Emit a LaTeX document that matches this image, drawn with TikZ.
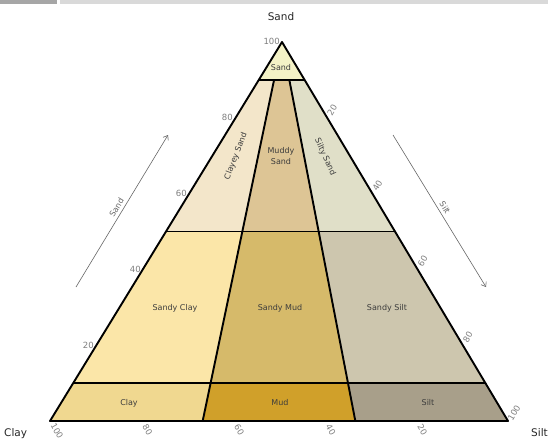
\documentclass[tikz,border=0pt]{standalone}
\usepackage{fontspec}
\setmainfont{DejaVu Sans}
\usetikzlibrary{arrows.meta}
\definecolor{cSand}{HTML}{F4F2C6}
\definecolor{cClayeySand}{HTML}{F3E6CA}
\definecolor{cMuddySand}{HTML}{DDC595}
\definecolor{cSiltySand}{HTML}{E0DFC8}
\definecolor{cSandyClay}{HTML}{FBE6A8}
\definecolor{cSandyMud}{HTML}{D6BA6A}
\definecolor{cSandySilt}{HTML}{CDC6AE}
\definecolor{cClay}{HTML}{F0D890}
\definecolor{cMud}{HTML}{D0A02A}
\definecolor{cSilt}{HTML}{A89F8A}
\definecolor{tickgray}{HTML}{7F7F7F}
\definecolor{regtext}{HTML}{3C3C3C}
\tikzset{
  border/.style={line width=1.9pt, line join=round},
  region/.style={font=\fontsize{8}{9.5}\selectfont, text=regtext, inner sep=0pt, align=center},
  ticklbl/.style={font=\fontsize{8.5}{10}\selectfont, text=tickgray, inner sep=0pt},
  cornerlbl/.style={font=\fontsize{10.5}{12}\selectfont, text=black!85, inner sep=0pt},
  axisarrow/.style={draw=black!60, line width=0.6pt, -{Straight Barb[length=4pt,width=6pt]}},
  axislbl/.style={font=\fontsize{8}{9.5}\selectfont, text=black!60, inner sep=3pt, sloped, above, midway}
}
\begin{document}
\begin{tikzpicture}[x=1pt,y=-1pt]
\useasboundingbox (0,0) rectangle (548,441);
\fill[white] (0,0) rectangle (548,441);
% top strip
\fill[black!35] (0,0) rectangle (57,4);
\fill[black!15] (60,0) rectangle (548,4);

% vertices
\coordinate (T) at (282,42);
\coordinate (C) at (50,421);
\coordinate (S) at (508,421);
% grid points
\coordinate (a90l) at (258.8,79.9);
\coordinate (a90m1) at (274.07,79.9);
\coordinate (a90m2) at (289.33,79.9);
\coordinate (a90r) at (304.6,79.9);
\coordinate (a50l) at (166,231.5);
\coordinate (a50m1) at (242.33,231.5);
\coordinate (a50m2) at (318.67,231.5);
\coordinate (a50r) at (395,231.5);
\coordinate (a10l) at (73.2,383.1);
\coordinate (a10m1) at (210.6,383.1);
\coordinate (a10m2) at (348.0,383.1);
\coordinate (a10r) at (485.4,383.1);
\coordinate (a0m1) at (202.67,421);
\coordinate (a0m2) at (355.33,421);

% fills
\fill[cSand] (T) -- (a90l) -- (a90r) -- cycle;
\fill[cClayeySand] (a90l) -- (a90m1) -- (a50m1) -- (a50l) -- cycle;
\fill[cMuddySand] (a90m1) -- (a90m2) -- (a50m2) -- (a50m1) -- cycle;
\fill[cSiltySand] (a90m2) -- (a90r) -- (a50r) -- (a50m2) -- cycle;
\fill[cSandyClay] (a50l) -- (a50m1) -- (a10m1) -- (a10l) -- cycle;
\fill[cSandyMud] (a50m1) -- (a50m2) -- (a10m2) -- (a10m1) -- cycle;
\fill[cSandySilt] (a50m2) -- (a50r) -- (a10r) -- (a10m2) -- cycle;
\fill[cClay] (a10l) -- (a10m1) -- (a0m1) -- (C) -- cycle;
\fill[cMud] (a10m1) -- (a10m2) -- (a0m2) -- (a0m1) -- cycle;
\fill[cSilt] (a10m2) -- (a10r) -- (S) -- (a0m2) -- cycle;

% lines
\draw[border] (a90l) -- (a90r);
\draw[border] (a50l) -- (a50r);
\draw[border] (a10l) -- (a10r);
\draw[border] (a90m1) -- (a0m1);
\draw[border] (a90m2) -- (a0m2);
\draw[border] (T) -- (C) -- (S) -- cycle;

% region labels
\node[region] (lSand) at (281,68) {Sand};
\node[region, rotate=69] (lClayeySand) at (236,156) {Clayey Sand};
\node[region] (lMuddySand) at (281,156) {Muddy\\[1pt]Sand};
\node[region, rotate=-66] (lSiltySand) at (325,157) {Silty Sand};
\node[region] (lSandyClay) at (175,308) {Sandy Clay};
\node[region] (lSandyMud) at (280,308) {Sandy Mud};
\node[region] (lSandySilt) at (387,308) {Sandy Silt};
\node[region] (lClay) at (129,403) {Clay};
\node[region] (lMud) at (280,403) {Mud};
\node[region] (lSilt) at (428,403) {Silt};

% left ticks (Sand)
\node[ticklbl, anchor=east] (tl100) at (280,41) {100};
\node[ticklbl, anchor=east] (tl80) at (233,117) {80};
\node[ticklbl, anchor=east] (tl60) at (187,193) {60};
\node[ticklbl, anchor=east] (tl40) at (141,269) {40};
\node[ticklbl, anchor=east] (tl20) at (94,345) {20};
% right ticks (Silt)
\node[ticklbl, rotate=60] (tr20) at (332.2,109.8) {20};
\node[ticklbl, rotate=60] (tr40) at (377.4,185.6) {40};
\node[ticklbl, rotate=60] (tr60) at (422.6,261.4) {60};
\node[ticklbl, rotate=60] (tr80) at (467.8,337.2) {80};
\node[ticklbl, rotate=60] (tr100) at (514,413) {100};
% bottom ticks (Clay)
\node[ticklbl, rotate=-60] (tb100) at (57,431) {100};
\node[ticklbl, rotate=-60] (tb80) at (147.6,430) {80};
\node[ticklbl, rotate=-60] (tb60) at (239.2,430) {60};
\node[ticklbl, rotate=-60] (tb40) at (330.8,430) {40};
\node[ticklbl, rotate=-60] (tb20) at (422.4,430) {20};

% axis arrows
\coordinate (la1) at (76,287);
\coordinate (la2) at (168,135);
\draw[axisarrow] (la1) -- node[axislbl] (lSandAxis) {Sand} (la2);
\coordinate (ra1) at (393,135);
\coordinate (ra2) at (486,287);
\draw[axisarrow] (ra1) -- node[axislbl] (lSiltAxis) {Silt} (ra2);

% corner labels
\node[cornerlbl] (cSandT) at (281,17) {Sand};
\node[cornerlbl, anchor=west] (cClayL) at (4,434) {Clay};
\node[cornerlbl, anchor=east] (cSiltR) at (548,433) {Silt};
\end{tikzpicture}
\end{document}
